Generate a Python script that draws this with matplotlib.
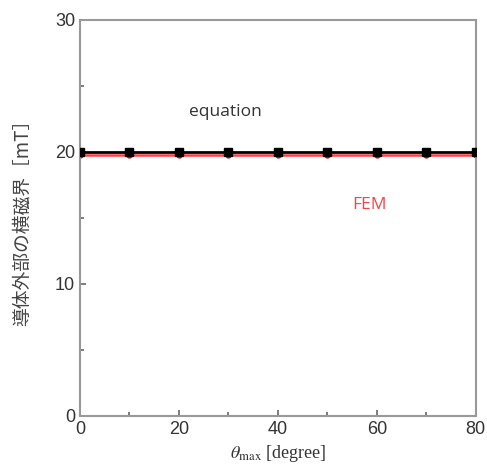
import numpy as np
import matplotlib.pyplot as plt

theta = [0, 10, 20, 30, 40, 50, 60, 70, 80]
equation = [20, 20, 20, 20, 20, 20, 20, 20, 20]
fem = [19.75, 19.75, 19.75, 19.75, 19.75, 19.75, 19.75, 19.75, 19.75]

plt.rcParams['mathtext.fontset'] = 'stix'

fig = plt.figure(figsize=(4.87, 4.71), dpi=100)
ax = fig.add_axes([0.164, 0.117, 0.813, 0.841])

ax.plot(theta, fem, color='#ff4040', lw=1.8, marker='o', ms=3.5,
        mfc='#e00000', mec='#e00000', zorder=2)
ax.plot(theta, equation, color='black', lw=2.0, marker='s', ms=5.5,
        zorder=3)

ax.set_xlim(0, 80)
ax.set_ylim(0, 30)
ax.set_xticks([0, 20, 40, 60, 80])
ax.set_xticks([10, 30, 50, 70], minor=True)
ax.set_yticks([0, 10, 20, 30])
ax.set_yticks([5, 15, 25], minor=True)
ax.tick_params(which='both', direction='in', colors='#666666',
               labelcolor='#333333', labelsize=13)
ax.tick_params(which='major', length=4, width=1.2)
ax.tick_params(which='minor', length=3, width=1.2)
for lbl in ax.get_xticklabels() + ax.get_yticklabels():
    lbl.set_family('Liberation Sans')
for s in ax.spines.values():
    s.set_color('#999999')
    s.set_linewidth(1.5)

ax.text(29.5, 23.0, 'equation', fontsize=12.5, color='#333333',
        family='Open Sans', ha='center', va='center')
ax.text(58.6, 16.0, 'FEM', fontsize=12.5, color='#ff4040',
        family='Open Sans', ha='center', va='center')

ax.set_xlabel(r'$\theta_{\mathrm{max}}$ [degree]', fontsize=13,
              family='Liberation Serif', color='#333333', labelpad=4)
ax.set_ylabel('導体外部の横磁界［mT］', fontsize=13.5, color='#444444',
              family=['Noto Sans CJK JP', 'DejaVu Sans'], labelpad=16)

fig.savefig('out.png', dpi=100)
